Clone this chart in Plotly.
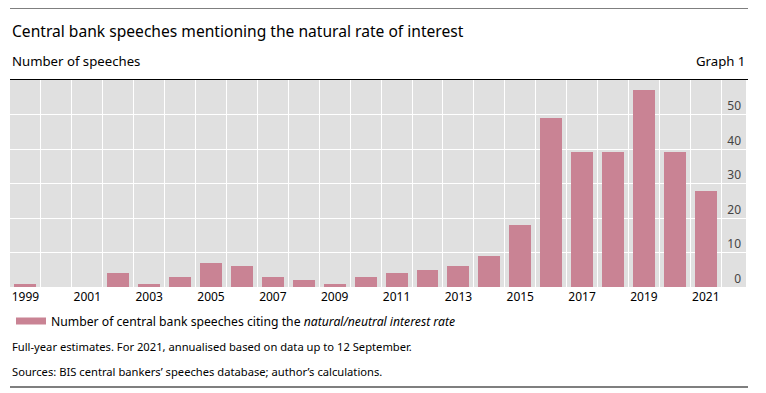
import plotly.graph_objects as go

years = list(range(1999, 2022))
speeches = [1, 0, 0, 4, 1, 3, 7, 6, 3, 2, 1, 3, 4, 5, 6, 9, 18, 49, 39, 39, 57, 39, 27.7]
x_ticks = list(range(1999, 2022, 2))
x_tick_labels = [str(y) for y in x_ticks]
y_ticks = [0, 10, 20, 30, 40, 50]

title_text = "Central bank speeches mentioning the natural rate of interest"
unit_text = "Number of speeches"
graph_no = "Graph 1"
legend_name = "Number of central bank speeches citing the <i>natural/neutral interest rate</i>"
note1 = "Full-year estimates. For 2021, annualised based on data up to 12 September."
note2 = "Sources: BIS central bankers\u2019 speeches database; author\u2019s calculations."

BAR = "#c98394"
FONT = "Noto Sans"

fig = go.Figure()
fig.add_trace(go.Bar(
    x=years, y=speeches, width=0.71,
    marker=dict(color=BAR, line=dict(width=0)),
    showlegend=False, hoverinfo="x+y",
))
fig.add_trace(go.Scatter(
    x=[None], y=[None], mode="lines", name=legend_name,
    line=dict(color=BAR, width=7), showlegend=True,
))

# page has an 8px body margin; work in page coordinates and convert
OFF = 8
W, H = 758, 385
L, R, T, B = 10 - OFF, 20, 80 - OFF, 0
B = H - (287 - OFF)
R = W - (746 - OFF)
pw, ph = W - L - R, H - T - B

def px(xp):
    return (xp - OFF - L) / pw

def py(yp):
    return (H - B - (yp - OFF)) / ph

fig.update_layout(
    width=W, height=H,
    margin=dict(l=L, r=R, t=T, b=B, pad=0),
    paper_bgcolor="white", plot_bgcolor="#e0e0e0",
    font=dict(family=FONT, size=12, color="#000000"),
    bargap=0,
    xaxis=dict(
        range=[1998.5, 2022.3], tickvals=x_ticks, ticktext=x_tick_labels,
        showgrid=False, zeroline=False, ticks="", showline=False,
        tickfont=dict(size=12), ticklabelstandoff=1,
        minor=dict(tick0=1999.5, dtick=1, showgrid=True, gridcolor="white", gridwidth=1, ticks=""),
        fixedrange=True,
    ),
    yaxis=dict(
        range=[0, 60], side="right", tickvals=y_ticks,
        ticklabelposition="inside top", showgrid=True, gridcolor="white", gridwidth=1,
        zeroline=False, ticks="", showline=False, tickfont=dict(size=12),
        ticklabelstandoff=2,
        fixedrange=True,
    ),
    legend=dict(
        x=px(11), y=py(321), xanchor="left", yanchor="middle",
        orientation="h", bgcolor="rgba(0,0,0,0)", font=dict(size=12.2),
        itemwidth=30,
    ),
    shapes=[
        dict(type="line", xref="paper", yref="paper", x0=px(10), x1=px(748), y0=py(8), y1=py(8),
             line=dict(color="black", width=1.2)),
        dict(type="line", xref="paper", yref="paper", x0=px(10), x1=px(748), y0=py(79.5), y1=py(79.5),
             line=dict(color="black", width=1.2)),
        dict(type="line", xref="paper", yref="paper", x0=px(10), x1=px(748), y0=py(387), y1=py(387),
             line=dict(color="black", width=1.2)),
    ],
    annotations=[
        dict(text=title_text, x=px(10), y=py(31), xref="paper", yref="paper", xanchor="left",
             yanchor="middle", showarrow=False, font=dict(size=15.6)),
        dict(text=unit_text, x=px(10), y=py(61), xref="paper", yref="paper", xanchor="left",
             yanchor="middle", showarrow=False, font=dict(size=13.2)),
        dict(text=graph_no, x=px(747), y=py(61), xref="paper", yref="paper", xanchor="right",
             yanchor="middle", showarrow=False, font=dict(size=13.2)),
        dict(text=note1, x=px(10), y=py(346), xref="paper", yref="paper", xanchor="left",
             yanchor="middle", showarrow=False, font=dict(size=11.2)),
        dict(text=note2, x=px(10), y=py(371), xref="paper", yref="paper", xanchor="left",
             yanchor="middle", showarrow=False, font=dict(size=11.2)),
    ],
)

fig.write_html("out.html")
